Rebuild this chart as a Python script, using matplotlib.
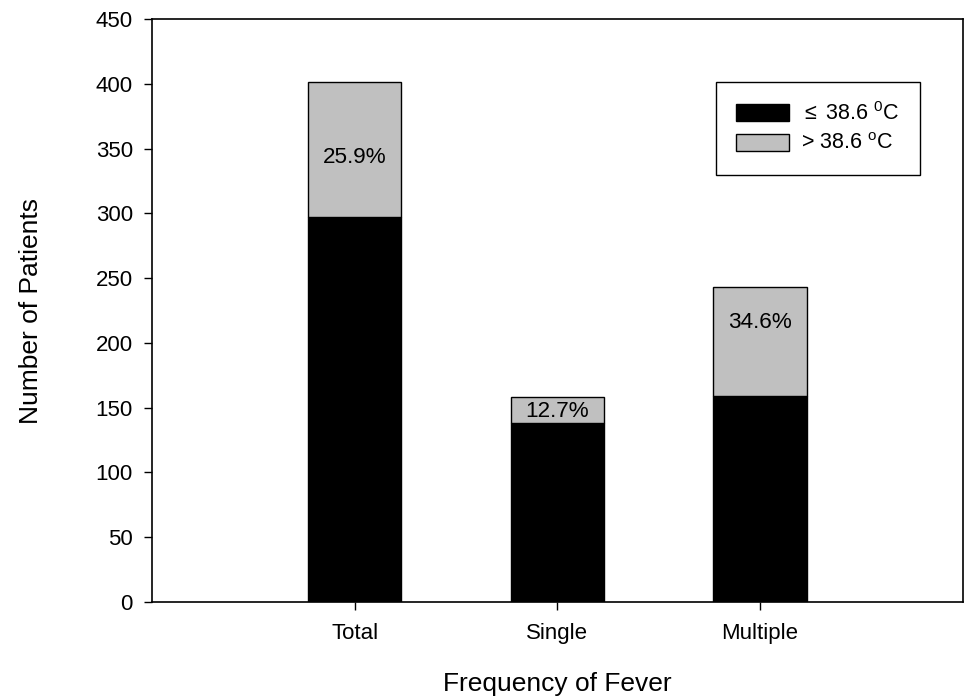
import matplotlib
matplotlib.use("Agg")
import matplotlib.pyplot as plt
from matplotlib.patches import Patch

plt.rcParams['font.family'] = ['Liberation Sans', 'DejaVu Sans']
plt.rcParams['mathtext.fontset'] = 'custom'
plt.rcParams['mathtext.rm'] = 'Liberation Sans'
plt.rcParams['mathtext.it'] = 'Liberation Sans'

# data
categories = ["Total", "Single", "Multiple"]
low_fever = [297, 138, 159]      # <= 38.6 C
high_fever = [104, 20, 84]       # > 38.6 C
pct_labels = ["25.9%", "12.7%", "34.6%"]
label_y = [343, 147, 216]

x = [1, 2, 3]

fig = plt.figure(figsize=(9.64, 6.98), dpi=100)
ax = fig.add_axes([0.158, 0.1375, 0.8405, 0.8353])

ax.bar(x, low_fever, width=0.46, color="black", edgecolor="black", linewidth=1)
ax.bar(x, high_fever, width=0.46, bottom=low_fever, color="#c0c0c0",
       edgecolor="black", linewidth=1)

for xi, yi, t in zip(x, label_y, pct_labels):
    ax.text(xi, yi, t, ha="center", va="center", fontsize=16.2)

ax.set_xlim(0, 4)
ax.set_ylim(0, 450)
ax.set_yticks(range(0, 451, 50))
ax.set_xticks(x)
ax.set_xticklabels(categories)
ax.tick_params(direction="out", length=6, width=1, labelsize=16)
ax.tick_params(axis="y", pad=8)
ax.tick_params(axis="x", pad=9)

for s in ax.spines.values():
    s.set_linewidth(1.2)

ax.set_ylabel("Number of Patients", fontsize=19, labelpad=38)
ax.set_xlabel("Frequency of Fever", fontsize=19, labelpad=20)

handles = [Patch(facecolor="black", edgecolor="black"),
           Patch(facecolor="#c0c0c0", edgecolor="black")]
ax.legend(handles, [r"$\leq$ 38.6 $^{0}$C", r"> 38.6 $^{o}$C"],
          loc="upper right", bbox_to_anchor=(0.948, 0.892), fontsize=15.5,
          frameon=True, fancybox=False, edgecolor="black", framealpha=1,
          handlelength=2.46, handleheight=0.84, handletextpad=0.56,
          borderpad=0.95, borderaxespad=0, labelspacing=0.38)

fig.savefig("out.png", dpi=100)
